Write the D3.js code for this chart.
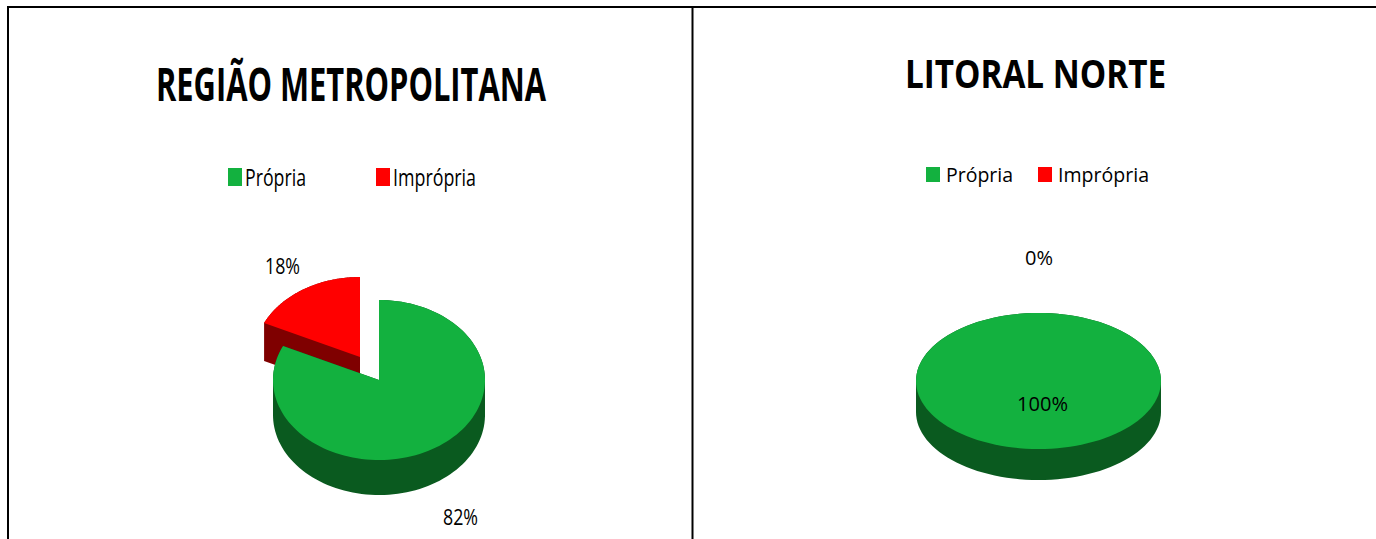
<!DOCTYPE html>
<html><head><meta charset="utf-8">
<script src="https://cdn.jsdelivr.net/npm/d3@7/dist/d3.min.js"></script>
<style>html,body{margin:0;background:#fff;overflow:hidden}svg{display:block}text{font-family:"Open Sans",sans-serif;fill:#000}</style>
</head><body><svg id="c" width="1376" height="539"></svg>
<script>
const categories = ["Própria", "Imprópria"];
const valuesMetro = [82, 18];
const valuesNorte = [100, 0];
const titles = ["REGIÃO METROPOLITANA", "LITORAL NORTE"];
const faceColors = ["#13B13F", "#FF0000"];
const sideColors = ["#0A5A1F", "#7F0000"];

const layouts = [
  {title:{x:156,w:390,y:101,fs:47}, legend:{y:168,h:18,sw:14,fs:23,items:[[228,245,61],[376,393,83]]},
   cx:379, cy:380, rx:106, ry:80, depth:35, explode:[{dx:0,dy:0,depth:35},{dx:-19,dy:-23,depth:38}],
   labels:[{x:443,w:35,y:525,fs:22},{x:265,w:35,y:274,fs:22}], values:valuesMetro},
  {title:{x:905,w:261,y:88,fs:39}, legend:{y:167,h:15,sw:14,fs:19.5,items:[[926,946,67],[1038,1058,91]]},
   cx:1038.5, cy:381, rx:122.5, ry:68, depth:31, explode:[{dx:0,dy:0,depth:31},{dx:0,dy:0,depth:31}],
   labels:[{x:1017,w:51,y:411,fs:19.5},{x:1025,w:28,y:265,fs:19.5}], values:valuesNorte}
];

const svg = d3.select("#c");
// frame
[[7,7,1376,7],[8,7,8,539],[692.5,7,692.5,539]].forEach(l=>
  svg.append("line").attr("x1",l[0]).attr("y1",l[1]).attr("x2",l[2]).attr("y2",l[3]).attr("stroke","#000").attr("stroke-width",2));

const pie = d3.pie().sort(null).value(d=>d);

function drawPie(L, idx){
  const g = svg.append("g");
  const sx = d3.scaleLinear().domain([-1,1]).range([-L.rx,L.rx]);
  const sy = d3.scaleLinear().domain([-1,1]).range([-L.ry,L.ry]);
  const arcs = pie(L.values);
  const pt = a => [sx(Math.sin(a)), sy(-Math.cos(a))];
  const line = d3.line();
  const sweep = (a0,a1) => d3.range(0,121).map(i=>pt(a0+(a1-a0)*i/120));
  // exploded slice first, so the main slice overlaps it
  [1,0].filter(i=>arcs[i].endAngle>arcs[i].startAngle).forEach(i=>{
    const a = arcs[i], e = L.explode[i];
    const s = g.append("g").attr("transform",`translate(${L.cx+e.dx},${L.cy+e.dy})`);
    const rim = sweep(a.startAngle,a.endAngle);
    const full = a.endAngle-a.startAngle>=2*Math.PI-1e-6;
    const face = full ? rim : [[0,0],...rim];
    const loop = full ? face : [...face,face[0]];
    const down = p => [p[0],p[1]+e.depth];
    // side wall: one path of consistently wound quads, so no seams and no cancelling
    let d = line(face.map(down).slice().sort(()=>0))+"Z";
    if(d3.polygonArea(face)<0) d = line(face.map(down).reverse())+"Z";
    loop.slice(0,-1).forEach((p,k)=>{
      let q = [p,loop[k+1],down(loop[k+1]),down(p)];
      if(d3.polygonArea(q)*d3.polygonArea(face)<0) q = q.reverse();
      if(d3.polygonArea(face)<0) q = q.slice().reverse();
      d += line(q)+"Z";
    });
    s.append("path").attr("d",d).attr("fill",sideColors[i]);
    s.append("path").attr("d",line(face)+"Z").attr("fill",faceColors[i]);
  });
  // title
  svg.append("text").attr("x",L.title.x).attr("y",L.title.y).attr("font-size",L.title.fs).attr("font-weight",700)
     .attr("textLength",L.title.w).attr("lengthAdjust","spacingAndGlyphs").text(titles[idx]);
  // legend
  categories.forEach((c,i)=>{
    const it = L.legend.items[i];
    svg.append("rect").attr("x",it[0]).attr("y",L.legend.y).attr("width",L.legend.sw).attr("height",L.legend.h).attr("fill",faceColors[i]);
    svg.append("text").attr("x",it[1]).attr("y",L.legend.y+L.legend.h).attr("font-size",L.legend.fs)
       .attr("textLength",it[2]).attr("lengthAdjust","spacingAndGlyphs").text(c);
  });
  // data labels
  L.values.forEach((v,i)=>{
    const t = L.labels[i];
    svg.append("text").attr("x",t.x).attr("y",t.y).attr("font-size",t.fs)
       .attr("textLength",t.w).attr("lengthAdjust","spacingAndGlyphs").text(v+"%");
  });
}
layouts.forEach(drawPie);
</script></body></html>
